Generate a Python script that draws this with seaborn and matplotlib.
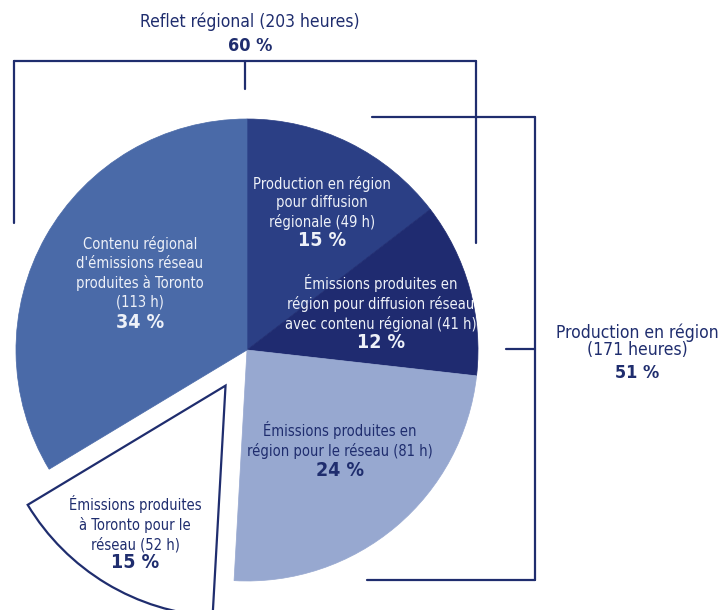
import numpy as np
import seaborn as sns
import matplotlib.pyplot as plt

# donnees
hours = [49, 41, 81, 52, 113]
pcts = ["15 %", "12 %", "24 %", "15 %", "34 %"]
labels = ["Production en région\npour diffusion\nrégionale (49 h)",
          "Émissions produites en\nrégion pour diffusion réseau\navec contenu régional (41 h)",
          "Émissions produites en\nrégion pour le réseau (81 h)",
          "Émissions produites\nà Toronto pour le\nréseau (52 h)",
          "Contenu régional\nd'émissions réseau\nproduites à Toronto\n(113 h)"]
top_group = ["Reflet régional (203 heures)", "60 %"]
right_group = ["Production en région\n(171 heures)", "51 %"]

sns.set_theme(style="white")
plt.rcParams['font.family'] = ['DejaVu Sans']
plt.rcParams['font.stretch'] = 'condensed'

navy = "#1f2d6e"
colors = ["#2b3f85", "#1f2b70", "#97a8d0", "#ffffff", "#4a6aa8"]
txt_colors = ["#eef1f8", "#eef1f8", navy, navy, "#eef1f8"]

W, H = 723, 610
fig = plt.figure(figsize=(W / 100, H / 100), dpi=100)
ax = fig.add_axes([0, 0, 1, 1])

cx, cy, r = 247, H - 350, 231
wedges, _ = ax.pie(hours, colors=colors, startangle=90, counterclock=False,
                   explode=[0, 0, 0, 0.18 * r, 0], radius=r, center=(cx, cy),
                   wedgeprops=dict(linewidth=0.5))
for w, c in zip(wedges, colors):
    w.set_edgecolor(c)
# la part exclue est blanche avec un contour
wedges[3].set_edgecolor(navy)
wedges[3].set_linewidth(1.6)

ax.set_xlim(0, W)
ax.set_ylim(0, H)
ax.set_aspect('equal')
ax.axis('off')

def Y(py):
    return H - py

# positions des etiquettes (pixels) : x, texte, pourcentage
pos = [(322, 203, 241), (381, 303, 342), (340, 440, 470), (135, 524, 563), (140, 273, 323)]
for (x, ty, py), lab, p, tc in zip(pos, labels, pcts, txt_colors):
    ax.text(x, Y(ty), lab, ha='center', va='center', color=tc, fontsize=10.5,
            linespacing=1.3)
    ax.text(x, Y(py), p, ha='center', va='center', color=tc, fontsize=14,
            fontweight='bold')

# accolade du haut
lw = 1.6
ax.plot([14, 476], [Y(61), Y(61)], color=navy, lw=lw)
ax.plot([14, 14], [Y(61), Y(223)], color=navy, lw=lw)
ax.plot([476, 476], [Y(61), Y(243)], color=navy, lw=lw)
ax.plot([245, 245], [Y(61), Y(89)], color=navy, lw=lw)
ax.text(250, Y(22), top_group[0], ha='center', va='center', color=navy, fontsize=12.5)
ax.text(250, Y(46), top_group[1], ha='center', va='center', color=navy, fontsize=13,
        fontweight='bold')

# accolade de droite
ax.plot([372, 535], [Y(117), Y(117)], color=navy, lw=lw)
ax.plot([535, 535], [Y(117), Y(580)], color=navy, lw=lw)
ax.plot([367, 535], [Y(580), Y(580)], color=navy, lw=lw)
ax.plot([506, 535], [Y(349), Y(349)], color=navy, lw=lw)
ax.text(637, Y(341), right_group[0], ha='center', va='center', color=navy, fontsize=12.5,
        linespacing=0.95)
ax.text(637, Y(373), right_group[1], ha='center', va='center', color=navy, fontsize=13,
        fontweight='bold')

fig.savefig("out.png", dpi=100)
